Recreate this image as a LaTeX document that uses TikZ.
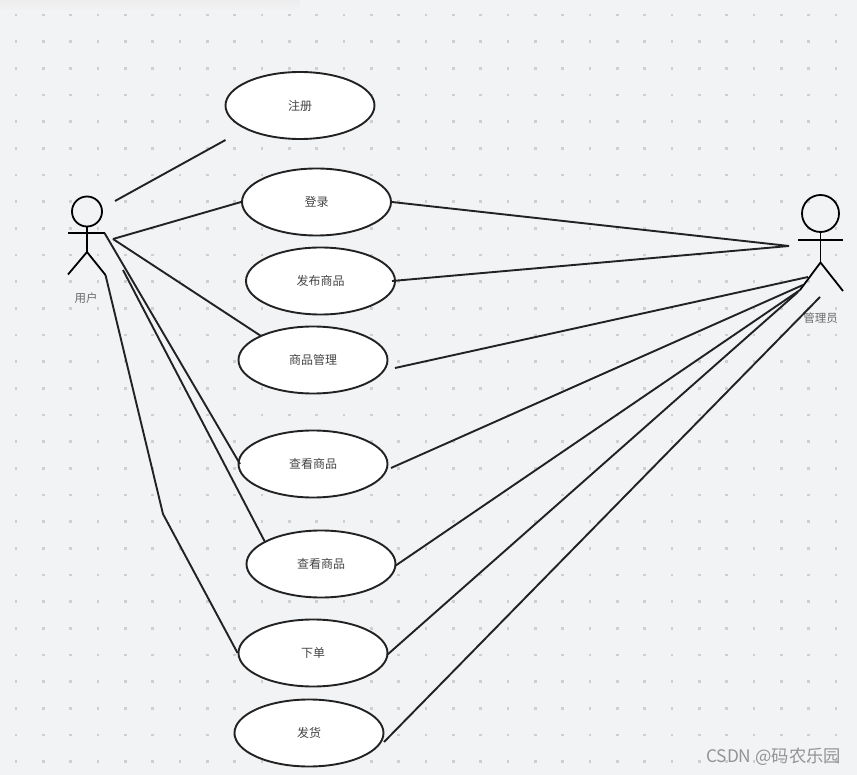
\documentclass[tikz,border=0pt]{standalone}
\usepackage{fontspec}
\setmainfont{Noto Sans CJK SC}
\usetikzlibrary{shapes.geometric,fadings}
\definecolor{bgc}{HTML}{F2F3F5}
\definecolor{dotc}{HTML}{CFCFD1}
\definecolor{linec}{HTML}{222222}
\definecolor{txtc}{HTML}{444444}
\tikzset{
 usecase/.style={draw=linec,fill=white,ellipse,line width=1.9pt,minimum width=149pt,minimum height=67pt,inner sep=0pt,text=txtc,font=\fontsize{12}{14}\selectfont},
 conn/.style={draw=linec,line width=1.9pt},
 limb/.style={draw=black,line width=1.8pt},
 actorlabel/.style={text=txtc!80,font=\fontsize{11.5}{14}\selectfont,inner sep=0pt},
 wmark/.style={text=gray!85,font=\fontsize{17.3}{19}\selectfont,inner sep=0pt,anchor=west}
}
\begin{document}
\begin{tikzpicture}[x=1pt,y=-1pt]
\useasboundingbox (0,0) rectangle (857,775);
\fill[bgc] (0,0) rectangle (857,775);
\fill[black!7,path fading=south] (0,0) rectangle (300,10);
\foreach \i in {0,...,30}{
  \foreach \j in {0,...,28}{
    \fill[dotc] ({16+27.33*\i-1.3},{15+26.67*\j-1.3}) rectangle ++(2.6,2.6);
  }
}
% use cases
\node[usecase] (reg) at (300,105.5) {注册};
\node[usecase] (login) at (316.5,202) {登录};
\node[usecase] (pub) at (320.5,281) {发布商品};
\node[usecase] (mgr) at (313,360) {商品管理};
\node[usecase] (viewa) at (313,464) {查看商品};
\node[usecase] (viewb) at (321,564) {查看商品};
\node[usecase] (order) at (313,653) {下单};
\node[usecase] (ship) at (309,733) {发货};
% user actor
\node[draw=black,line width=1.8pt,circle,minimum size=30pt,inner sep=0pt] (uhead) at (87,211.5) {};
\coordinate (uarmL) at (68,233);
\coordinate (uarmR) at (104.5,233);
\coordinate (uhip) at (87,252);
\coordinate (ufootL) at (68,274.5);
\coordinate (ufootR) at (105.5,275);
\draw[limb] (uhead.south) -- (uhip);
\draw[limb] (uarmL) -- (uarmR);
\draw[limb] (ufootL) -- (uhip) -- (ufootR);
\node[actorlabel] (ulabel) at (86,298.5) {用户};
% admin actor
\node[draw=black,line width=1.8pt,circle,minimum size=37pt,inner sep=0pt] (ahead) at (820.5,213.5) {};
\coordinate (aarmL) at (798,240);
\coordinate (aarmR) at (843,240);
\coordinate (ahip) at (820.5,262.5);
\coordinate (afootL) at (800,290);
\coordinate (afootR) at (843,291);
\draw[limb] (ahead.south) -- (ahip);
\draw[limb] (aarmL) -- (aarmR);
\draw[limb] (afootL) -- (ahip) -- (afootR);
\node[actorlabel] (alabel) at (820.5,318) {管理员};
% free ends at the user
\coordinate (u1) at (115,201);
\coordinate (u2) at (113,239);
\coordinate (u3) at (123,270);
\coordinate (r1) at (225.5,140);
\coordinate (m1) at (261,336);
\coordinate (va) at (240,464);
\coordinate (vb) at (265,542);
\coordinate (k1) at (163,514);
\draw[conn] (u1) -- (r1);
\draw[conn] (u2) -- (login.west);
\draw[conn] (u2) -- (m1);
\draw[conn] (uarmR) -- (va);
\draw[conn] (u3) -- (vb);
\draw[conn] (ufootR) -- (k1) -- (order.west);
% free ends at the admin
\coordinate (a1) at (789,246);
\coordinate (a2) at (808,277);
\coordinate (a3) at (803,285);
\coordinate (a4) at (800,290);
\coordinate (a5) at (798,292);
\coordinate (a6) at (820,297);
\coordinate (p1) at (392,281);
\coordinate (g1) at (395,368);
\coordinate (h1) at (391,468);
\coordinate (h2) at (395,566);
\coordinate (h3) at (387,655);
\coordinate (h4) at (384,742);
\draw[conn] (login.east) -- (a1);
\draw[conn] (p1) -- (a1);
\draw[conn] (g1) -- (a2);
\draw[conn] (h1) -- (a3);
\draw[conn] (h2) -- (a4);
\draw[conn] (h3) -- (a5);
\draw[conn] (h4) -- (a6);
\node[wmark] (wm) at (706,757) {CSDN @码农乐园};
\end{tikzpicture}
\end{document}
